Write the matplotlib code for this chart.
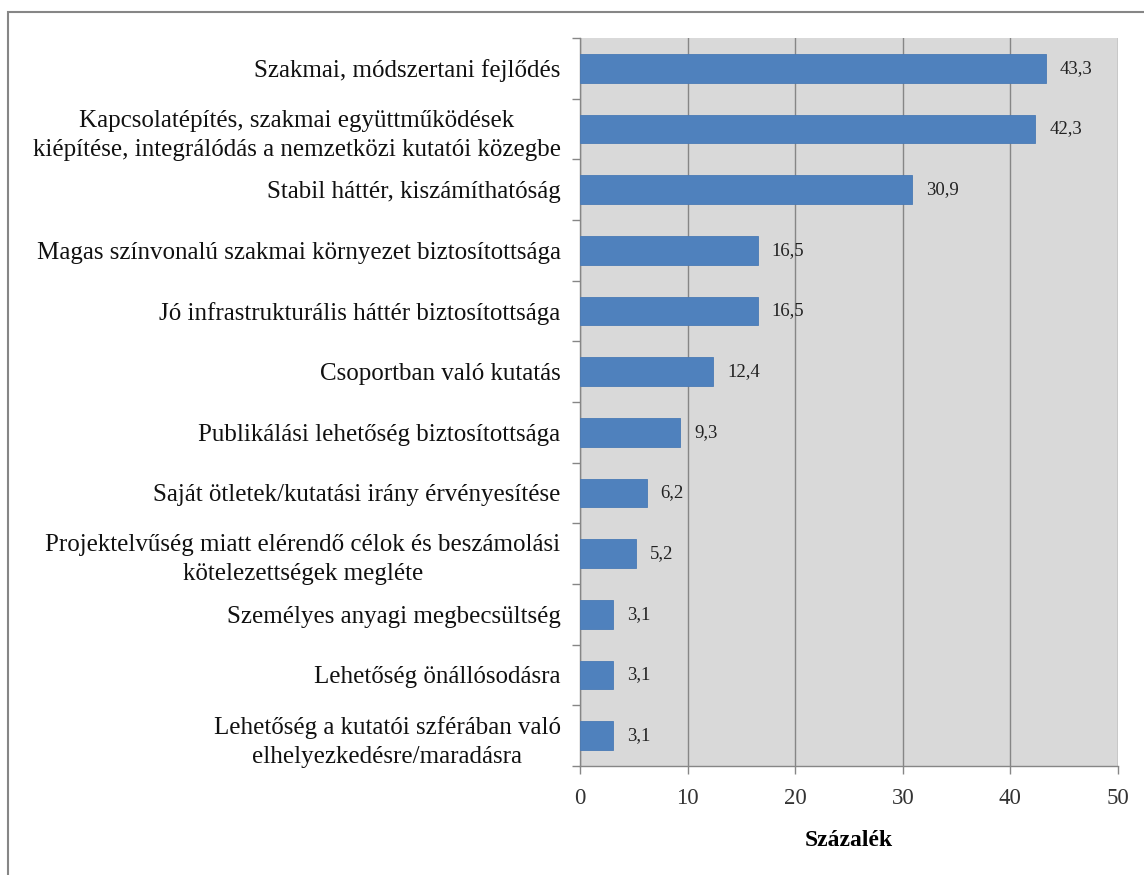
"""Horizontal bar chart: motivations (percent)."""

import matplotlib.pyplot as plt
from matplotlib.patches import Rectangle
import numpy as np

categories = [
    "Szakmai, módszertani fejlődés",
    "Kapcsolatépítés, szakmai együttműködések\n"
    "kiépítése, integrálódás a nemzetközi kutatói közegbe",
    "Stabil háttér, kiszámíthatóság",
    "Magas színvonalú szakmai környezet biztosítottsága",
    "Jó infrastrukturális háttér biztosítottsága",
    "Csoportban való kutatás",
    "Publikálási lehetőség biztosítottsága",
    "Saját ötletek/kutatási irány érvényesítése",
    "Projektelvűség miatt elérendő célok és beszámolási\n"
    "kötelezettségek megléte",
    "Személyes anyagi megbecsültség",
    "Lehetőség önállósodásra",
    "Lehetőség a kutatói szférában való\n"
    "elhelyezkedésre/maradásra",
]
values = [43.3, 42.3, 30.9, 16.5, 16.5, 12.4, 9.3, 6.2, 5.2, 3.1, 3.1, 3.1]
x_ticks = [0, 10, 20, 30, 40, 50]

plt.rcParams["font.family"] = ["Liberation Serif", "DejaVu Serif"]

fig = plt.figure(figsize=(11.44, 8.75), dpi=100)
ax = fig.add_axes([580 / 1144, 1 - 766 / 875, (1118 - 580) / 1144, (766 - 38) / 875])

# outer frame of the chart area (cut off at right/bottom like the original)
fig.patches.append(
    Rectangle((8 / 1144, -0.05), 1.2, 1 - 12 / 875 + 0.05,
              transform=fig.transFigure, fill=False,
              edgecolor="#868686", linewidth=1.5)
)

y = np.arange(len(categories))
ax.barh(y, values, height=0.47, color="#4f81bd", edgecolor="#4a7ab5",
        linewidth=0.6, zorder=3)
for yi, v in zip(y, values):
    ax.text(v + 1.3, yi, f"{v:.1f}".replace(".", ","), va="center",
            ha="left", fontsize=13.5, color="#222222", zorder=4)

ax.set_facecolor("#d9d9d9")
ax.set_xlim(0, 50)
ax.set_ylim(len(categories) - 0.5, -0.5)
ax.set_xticks(x_ticks)
ax.set_xticklabels([str(t) for t in x_ticks], fontsize=16.5, color="#333333")
ax.xaxis.grid(True, color="#868686", linewidth=1.0, zorder=0)
ax.set_axisbelow(True)

ax.set_yticks(y)
ax.set_yticklabels(categories, fontsize=18, color="#111111",
                   multialignment="center", linespacing=1.42)
ax.tick_params(axis="y", length=0, pad=14)
ax.set_yticks(np.arange(len(categories) + 1) - 0.5, minor=True)
ax.tick_params(axis="y", which="minor", length=6, color="#868686", width=1)
ax.tick_params(axis="x", length=6, color="#868686", width=1, pad=10)

for side in ("top", "right"):
    ax.spines[side].set_visible(False)
for side in ("left", "bottom"):
    ax.spines[side].set_color("#868686")
    ax.spines[side].set_linewidth(1.0)

ax.set_xlabel("Százalék", fontsize=17, fontweight="bold", labelpad=15)

fig.savefig("out.png", dpi=100)
plt.close(fig)
